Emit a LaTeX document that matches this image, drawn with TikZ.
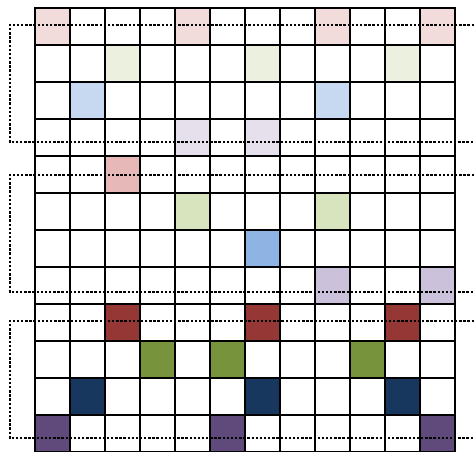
\documentclass[tikz,border=0pt]{standalone}
\usepackage{tikz}
\usepackage{xcolor}
\definecolor{pinklight}{HTML}{F2DCDB}
\definecolor{greenlight}{HTML}{EBF1DE}
\definecolor{bluelight}{HTML}{C6D9F1}
\definecolor{lilaclight}{HTML}{E5E0EC}
\definecolor{pinkmid}{HTML}{E6B9B8}
\definecolor{greenmid}{HTML}{D7E4BD}
\definecolor{bluemid}{HTML}{8EB4E3}
\definecolor{lilacmid}{HTML}{CCC1DA}
\definecolor{reddark}{HTML}{953735}
\definecolor{greendark}{HTML}{77933C}
\definecolor{bluedark}{HTML}{17375E}
\definecolor{lilacdark}{HTML}{604A7B}
\tikzset{
  gridline/.style={line width=2pt, black, line cap=rect},
  bracket/.style={line width=1.8pt, black, dash pattern=on 1.8pt off 1.3pt},
}

\begin{document}
\begin{tikzpicture}[x=0.75pt, y=-0.75pt]
    \useasboundingbox (0,0) rectangle (474,452);

    % coloured cells: row/column/colour
    \foreach \r/\c/\col in {1/1/pinklight, 1/5/pinklight, 1/9/pinklight, 1/12/pinklight,
                            2/3/greenlight, 2/7/greenlight, 2/11/greenlight,
                            3/2/bluelight, 3/9/bluelight,
                            4/5/lilaclight, 4/7/lilaclight,
                            5/3/pinkmid,
                            6/5/greenmid, 6/9/greenmid,
                            7/7/bluemid,
                            8/9/lilacmid, 8/12/lilacmid,
                            9/3/reddark, 9/7/reddark, 9/11/reddark,
                            10/4/greendark, 10/6/greendark, 10/10/greendark,
                            11/2/bluedark, 11/7/bluedark, 11/11/bluedark,
                            12/1/lilacdark, 12/6/lilacdark, 12/12/lilacdark}
        \fill[\col] ({35*\c},{8+37*(\r-1)}) rectangle ++(35,37);

    % grid
    \foreach \i in {0,...,12} {
        \draw[gridline] ({35+35*\i},8) -- ({35+35*\i},452);
        \draw[gridline] (35,{8+37*\i}) -- (455,{8+37*\i});
    }

    % dotted brackets, one per group of four rows
    \foreach \t/\b in {25/142, 175/292, 321/438}
        \draw[bracket] (474,\t) -- (10,\t) -- (10,\b) -- (474,\b);
\end{tikzpicture}
\end{document}
